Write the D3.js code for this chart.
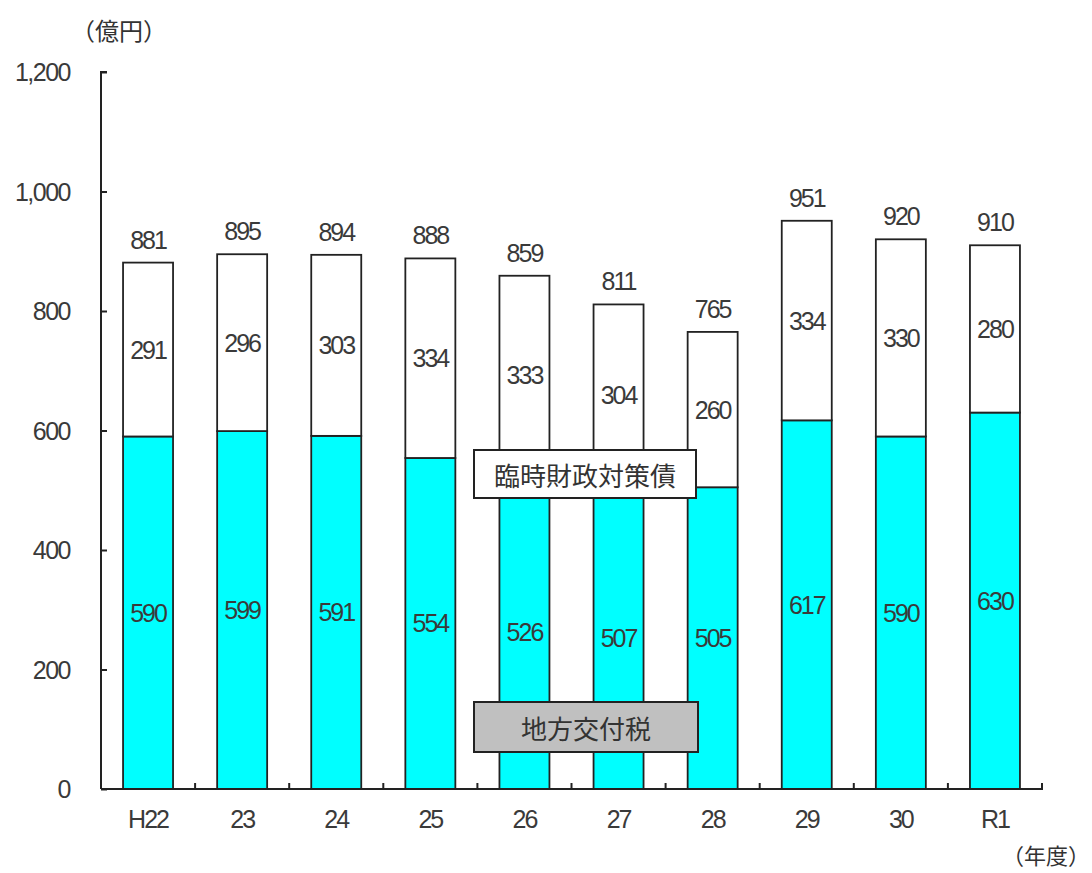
<!DOCTYPE html>
<html>
<head>
<meta charset="utf-8">
<script src="https://cdn.jsdelivr.net/npm/d3@7"></script>
<style>
  body { margin: 0; background: #fff; }
  text { font-family: "Liberation Sans", Arial, "Noto Sans CJK JP", sans-serif; fill: #3a3a3a; }
  .jp { font-family: "Noto Sans CJK JP", sans-serif; fill: #333; }
</style>
</head>
<body>
<svg id="chart" width="1092" height="873"></svg>
<script>
const years = ["H22", "23", "24", "25", "26", "27", "28", "29", "30", "R1"];
const koufuzei = [590, 599, 591, 554, 526, 507, 505, 617, 590, 630];   // 地方交付税
const rinzai = [291, 296, 303, 334, 333, 304, 260, 334, 330, 280];     // 臨時財政対策債
const totals = [881, 895, 894, 888, 859, 811, 765, 951, 920, 910];
const yTicks = [0, 200, 400, 600, 800, 1000, 1200];

const svg = d3.select("#chart");
const pad = {left: 101, top: 72, right: 1042, bottom: 789};

const x = d3.scaleBand().domain(years).range([pad.left, pad.right]).paddingInner(0).paddingOuter(0);
const y = d3.scaleLinear().domain([0, 1200]).range([pad.bottom, pad.top]);
const barW = 50;
const cx = d => x(d) + x.bandwidth() / 2;
const numFont = 25, numSpace = -2;

function label(sel, tx, ty, txt) {
    return sel.append("text").attr("x", tx).attr("y", ty)
        .attr("text-anchor", "middle").attr("dominant-baseline", "central")
        .attr("font-size", numFont).attr("letter-spacing", numSpace).text(txt);
}

// bars
const g = svg.append("g");
years.forEach((yr, i) => {
    const lo = koufuzei[i], tot = totals[i];
    g.append("rect")
        .attr("x", cx(yr) - barW / 2).attr("y", y(lo))
        .attr("width", barW).attr("height", y(0) - y(lo))
        .attr("fill", "#00ffff").attr("stroke", "#222").attr("stroke-width", 1.8);
    g.append("rect")
        .attr("x", cx(yr) - barW / 2).attr("y", y(tot))
        .attr("width", barW).attr("height", y(lo) - y(tot))
        .attr("fill", "#fff").attr("stroke", "#222").attr("stroke-width", 1.8);

    label(g, cx(yr), (y(0) + y(lo)) / 2, lo);
    label(g, cx(yr), (y(lo) + y(tot)) / 2, rinzai[i]);
    label(g, cx(yr), y(tot) - 23, tot);
});

// y axis
const yAxis = d3.axisRight(y).tickValues(yTicks).tickSize(6).tickFormat("");
const ya = svg.append("g").attr("transform", `translate(${pad.left},0)`).call(yAxis);
ya.select(".domain").attr("d", `M6,${pad.top}H0V${pad.bottom}`);
ya.selectAll("path, line").attr("stroke", "#222").attr("stroke-width", 2);
yTicks.forEach(t => {
    svg.append("text").attr("x", 70).attr("y", y(t))
        .attr("text-anchor", "end").attr("dominant-baseline", "central")
        .attr("font-size", numFont).attr("letter-spacing", -1.5).text(d3.format(",")(t));
});

// x axis
const xAxis = d3.axisTop(x).tickSize(0).tickFormat("");
const xa = svg.append("g").attr("transform", `translate(0,${pad.bottom})`).call(xAxis);
xa.select(".domain").attr("d", `M${pad.left},0H${pad.right}V-6`);
xa.select(".domain").attr("stroke", "#222").attr("stroke-width", 2).attr("fill", "none");
years.slice(1).forEach(yr => {
    xa.append("line").attr("x1", x(yr)).attr("x2", x(yr)).attr("y1", 0).attr("y2", -6)
        .attr("stroke", "#222").attr("stroke-width", 2);
});
years.forEach(yr => {
    label(svg, cx(yr), 819, yr);
});

// unit labels
svg.append("text").attr("class", "jp").attr("x", 71).attr("y", 29)
    .attr("dominant-baseline", "central").attr("font-size", 24).text("（億円）");
svg.append("text").attr("class", "jp").attr("x", 1090).attr("y", 854)
    .attr("text-anchor", "end").attr("dominant-baseline", "central")
    .attr("font-size", 22).text("（年度）");

// legend boxes
const legends = [
    {label: "臨時財政対策債", x: 474, y: 450, w: 222, h: 48, fill: "#fff"},
    {label: "地方交付税", x: 474, y: 702, w: 224, h: 50, fill: "#c0c0c0"}
];
legends.forEach(l => {
    svg.append("rect").attr("x", l.x).attr("y", l.y).attr("width", l.w).attr("height", l.h)
        .attr("fill", l.fill).attr("stroke", "#222").attr("stroke-width", 2);
    svg.append("text").attr("class", "jp").attr("x", l.x + l.w / 2).attr("y", l.y + l.h / 2)
        .attr("text-anchor", "middle").attr("dominant-baseline", "central")
        .attr("font-size", 26).text(l.label);
});
</script>
</body>
</html>
